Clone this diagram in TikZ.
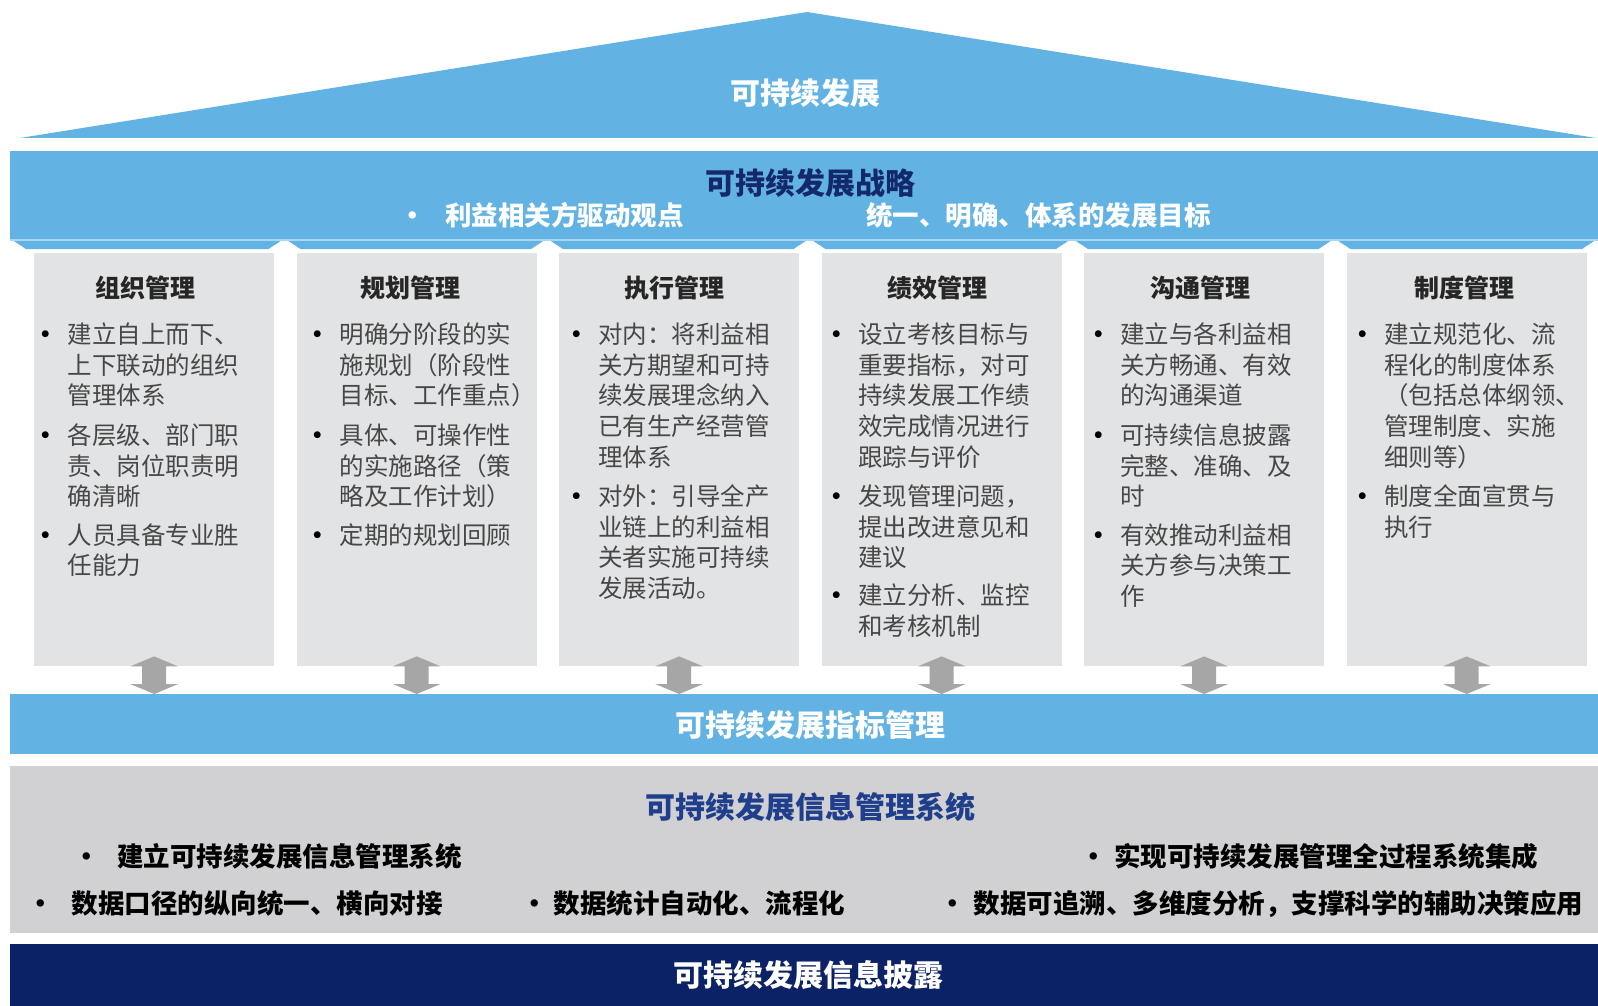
\documentclass[tikz,border=0pt]{standalone}
\usepackage{fontspec}
\setmainfont{Noto Sans CJK SC}
\usetikzlibrary{calc}
\definecolor{sky}{HTML}{62B3E3}
\definecolor{skylight}{HTML}{A9D6F2}
\definecolor{colgray}{HTML}{E2E3E5}
\definecolor{infogray}{HTML}{D1D0D2}
\definecolor{navy}{HTML}{0C2267}
\definecolor{strattitle}{HTML}{14296B}
\definecolor{infotitle}{HTML}{1F3F8C}
\definecolor{bodytext}{HTML}{474747}
\definecolor{arrgray}{HTML}{A6A6A6}
\tikzset{
  band/.style={fill=#1, draw=none, anchor=north west, minimum width=1588pt, inner sep=0pt},
  colbox/.style={fill=colgray, draw=none, anchor=north west, minimum width=240pt, minimum height=413pt, inner sep=0pt},
  bigtitle/.style={font=\fontsize{30}{36}\selectfont\bfseries, text=#1, inner sep=0pt, anchor=base},
  coltitle/.style={font=\fontsize{25}{30}\selectfont\bfseries, text=black!85, inner sep=0pt, anchor=base},
  body/.style={font=\fontsize{24.5}{30.6}\selectfont, text=bodytext, inner sep=0pt},
  bul/.style={font=\fontsize{24.5}{30.6}\selectfont\bfseries, text=black, inner sep=0pt, anchor=base},
  lowtext/.style={font=\fontsize{26.5}{32}\selectfont\bfseries, text=#1, inner sep=0pt, anchor=base west},
  lowbul/.style={font=\fontsize{26.5}{32}\selectfont\bfseries, text=#1, inner sep=0pt, anchor=base},
}
\newcommand\colpara[5]{%
  \node[bul] (#1b) at (#2, #4+9.3) {•};
  \foreach \t [count=\i from 0] in {#5}
    \node[body, anchor=base west] (#1l\i) at (#3, #4+9.3+\i*30.6) {\t};
}
\newcommand\dblarrow[1]{%
  \path ([yshift=10pt]#1.south) coordinate (#1at) (#1.south |- ind.north) coordinate (#1ab);
  \fill[arrgray] (#1at) -- ($(#1at)+(24,10)$) -- ($(#1at)+(12,10)$) -- ($(#1ab)+(12,-10)$)
    -- ($(#1ab)+(24,-10)$) -- (#1ab) -- ($(#1ab)+(-24,-10)$) -- ($(#1ab)+(-12,-10)$)
    -- ($(#1at)+(-12,10)$) -- ($(#1at)+(-24,10)$) -- cycle;
}
\begin{document}
\begin{tikzpicture}[x=1pt,y=-1pt]
\useasboundingbox (0,0) rectangle (1598,1006);
\fill[white] (0,0) rectangle (1598,1006);

% roof
\fill[sky] (20,138) -- (807,12) -- (1596,138) -- cycle;
\node[bigtitle=white] (roof) at (805,104.4) {可持续发展};

% strategy band
\node[band=sky, minimum height=88pt] (strat) at (10,151) {};
\foreach \a/\b in {10/284.5, 284.5/547, 547/809.5, 809.5/1072, 1072/1334.5, 1334.5/1598}{
  \fill[sky] (\a+3,240.5) -- (\b-3,240.5) -- (\b-16,249) -- (\a+16,249) -- cycle;
}
\draw[skylight, line width=1.2pt] (10,240) -- (1598,240);
\node[bigtitle=strattitle] (stratt) at (810,194.8) {可持续发展战略};
\node[lowbul=white] (sb1) at (413,225) {•};
\node[lowtext=white] (st1) at (445,225) {利益相关方驱动观点};
\node[lowtext=white] (st2) at (866,225) {统一、明确、体系的发展目标};

% columns
\foreach \i/\x in {1/34, 2/296.5, 3/559, 4/821.5, 5/1084, 6/1346.5}{
  \node[colbox] (col\i) at (\x,253) {};
}
\node[coltitle] (ct1) at (145.7,297.9) {组织管理};
\node[coltitle] (ct2) at (410.7,297.9) {规划管理};
\node[coltitle] (ct3) at (674.6,297.9) {执行管理};
\node[coltitle] (ct4) at (937.6,297.9) {绩效管理};
\node[coltitle] (ct5) at (1200.5,297.9) {沟通管理};
\node[coltitle] (ct6) at (1464.4,297.9) {制度管理};

\colpara{ca}{46}{67.3}{334.3}{建立自上而下、,上下联动的组织,管理体系}
\colpara{cb}{46}{67.3}{435.2}{各层级、部门职,责、岗位职责明,确清晰}
\colpara{cc}{46}{67.3}{535.0}{人员具备专业胜,任能力}

\colpara{da}{318}{339.4}{334.3}{明确分阶段的实,施规划（阶段性,目标、工作重点）}
\colpara{db}{318}{339.4}{435.2}{具体、可操作性,的实施路径（策,略及工作计划）}
\colpara{dc}{318}{339.4}{535.0}{定期的规划回顾}

\colpara{ea}{576.8}{598.2}{334.3}{对内：将利益相,关方期望和可持,续发展理念纳入,已有生产经营管,理体系}
\colpara{eb}{576.8}{598.2}{496.3}{对外：引导全产,业链上的利益相,关者实施可持续,发展活动。}

\colpara{fa}{836.7}{858.1}{334.3}{设立考核目标与,重要指标，对可,持续发展工作绩,效完成情况进行,跟踪与评价}
\colpara{fb}{836.7}{858.1}{496.3}{发现管理问题，,提出改进意见和,建议}
\colpara{fc}{836.7}{858.1}{595.2}{建立分析、监控,和考核机制}

\colpara{ga}{1098.6}{1120}{334.3}{建立与各利益相,关方畅通、有效,的沟通渠道}
\colpara{gb}{1098.6}{1120}{435.2}{可持续信息披露,完整、准确、及,时}
\colpara{gc}{1098.6}{1120}{535.0}{有效推动利益相,关方参与决策工,作}

\colpara{ha}{1362.6}{1384}{334.3}{建立规范化、流,程化的制度体系,（包括总体纲领、,管理制度、实施,细则等）}
\colpara{hb}{1362.6}{1384}{496.3}{制度全面宣贯与,执行}

% indicator band
\node[band=sky, minimum height=60pt] (ind) at (10,694) {};
\node[bigtitle=white] (indt) at (810,736.4) {可持续发展指标管理};

% arrows
\foreach \i in {1,...,6}{ \dblarrow{col\i} }

% info system band
\node[band=infogray, minimum height=167pt] (info) at (10,766) {};
\node[bigtitle=infotitle] (infot) at (810,818.4) {可持续发展信息管理系统};
\node[lowbul=black] (ib1) at (86.6,866) {•};
\node[lowtext=black] (it1) at (117.2,866) {建立可持续发展信息管理系统};
\node[lowbul=black] (ib2) at (1093.5,866) {•};
\node[lowtext=black] (it2) at (1113.9,866) {实现可持续发展管理全过程系统集成};
\node[lowbul=black] (ib3) at (40.8,913) {•};
\node[lowtext=black] (it3) at (71.3,913) {数据口径的纵向统一、横向对接};
\node[lowbul=black] (ib4) at (535,913) {•};
\node[lowtext=black] (it4) at (553.4,913) {数据统计自动化、流程化};
\node[lowbul=black] (ib5) at (953,913) {•};
\node[lowtext=black] (it5) at (973.3,913) {数据可追溯、多维度分析，支撑科学的辅助决策应用};

% disclosure band
\node[band=navy, minimum height=62pt] (disc) at (10,944) {};
\node[bigtitle=white] (disct) at (808,986.4) {可持续发展信息披露};
\end{tikzpicture}
\end{document}
